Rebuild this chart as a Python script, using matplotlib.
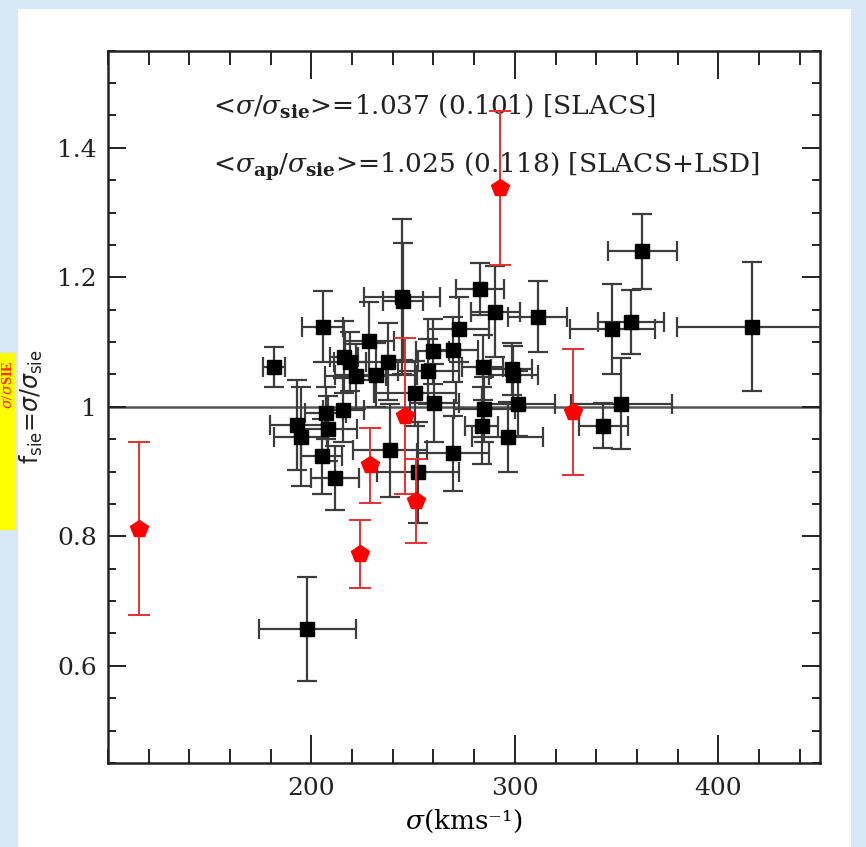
import matplotlib
matplotlib.use("Agg")
import matplotlib.pyplot as plt
from matplotlib.patches import Rectangle
from matplotlib.ticker import MultipleLocator, FuncFormatter

plt.rcParams['font.family'] = ['DejaVu Serif']
plt.rcParams['mathtext.fontset'] = 'dejavuserif'

# SLACS lenses (black squares)
slacs_sigma = [181.5, 205.6, 216.0, 219.0, 221.8, 228.4, 207.0, 215.7, 193.1, 194.7,
               208.2, 205.1, 211.6, 198.0, 238.6, 252.3, 269.5, 244.4, 245.0, 282.9,
               290.3, 311.3, 272.4, 259.6, 269.8, 237.5, 231.8, 257.5, 284.2, 298.5,
               299.3, 250.9, 260.3, 284.9, 301.7, 283.7, 296.5, 362.7, 347.9, 357.1,
               416.8, 352.4, 343.5]
slacs_f = [1.062, 1.124, 1.077, 1.070, 1.047, 1.102, 0.991, 0.995, 0.972, 0.954,
           0.966, 0.924, 0.890, 0.657, 0.933, 0.899, 0.928, 1.170, 1.163, 1.182,
           1.147, 1.139, 1.120, 1.086, 1.088, 1.070, 1.049, 1.055, 1.061, 1.058,
           1.049, 1.021, 1.006, 0.996, 1.005, 0.971, 0.953, 1.240, 1.120, 1.131,
           1.124, 1.005, 0.971]
slacs_sigma_err = [5.5, 10, 7, 8, 15, 12, 10, 10, 13.7, 13,
                   14, 10, 12, 24, 18, 20, 17.6, 18.7, 10, 12,
                   12, 14.5, 15, 8, 12, 15, 20, 15, 10, 10,
                   12, 20, 12, 15, 18, 8, 17.5, 17, 21, 16,
                   37, 25, 12]
slacs_f_err = [0.031, 0.055, 0.055, 0.045, 0.05, 0.06, 0.04, 0.05, 0.07, 0.076,
               0.05, 0.058, 0.05, 0.081, 0.072, 0.078, 0.058, 0.12, 0.09, 0.04,
               0.07, 0.055, 0.05, 0.05, 0.05, 0.06, 0.05, 0.05, 0.05, 0.04,
               0.045, 0.05, 0.06, 0.05, 0.05, 0.06, 0.054, 0.058, 0.07, 0.05,
               0.099, 0.07, 0.035]

# LSD lenses (red pentagons)
lsd_sigma = [115.2, 223.9, 228.8, 245.9, 251.3, 292.8, 328.4]
lsd_f = [0.812, 0.773, 0.910, 0.986, 0.854, 1.338, 0.992]
lsd_f_err = [0.133, 0.052, 0.058, 0.12, 0.065, 0.119, 0.097]

x_ticks = [200, 300, 400]
y_ticks = [0.6, 0.8, 1.0, 1.2, 1.4]

W, H = 866, 847
fig = plt.figure(figsize=(W / 100, H / 100), dpi=100)
fig.patch.set_facecolor('#d8e7f6')
fig.add_artist(Rectangle((18 / W, 0), (851 - 18) / W, 1 - 9 / H,
                         transform=fig.transFigure, facecolor='white',
                         edgecolor='none', zorder=0))
# yellow tag at left edge
fig.add_artist(Rectangle((0, 1 - 530 / H), 16 / W, (530 - 353) / H,
                         transform=fig.transFigure, facecolor='#ffff00',
                         edgecolor='none', zorder=1))
fig.text(8.5 / W, 1 - 360 / H, r"$\sigma$/$\sigma$SIE", rotation=90,
         color='#ff2a00', fontsize=10.5, fontweight='bold',
         family='Liberation Serif', ha='center', va='top', zorder=2)

ax = fig.add_axes([108 / W, 1 - 763 / H, (820 - 108) / W, (763 - 50.7) / H])
ax.set_zorder(3)
ax.patch.set_alpha(0)

ax.axhline(1.0, color='#555555', lw=1.8, zorder=1)

ax.errorbar(slacs_sigma, slacs_f, xerr=slacs_sigma_err, yerr=slacs_f_err,
            fmt='s', color='black', ms=10, ecolor='#3c3c3c', elinewidth=1.6,
            capsize=7, capthick=1.6, zorder=3)
ax.errorbar(lsd_sigma, lsd_f, yerr=lsd_f_err, fmt='p', color='#ff0000',
            ms=13, ecolor='#e63030', elinewidth=1.4, capsize=8, capthick=1.4,
            zorder=4)

ax.set_xlim(100, 450)
ax.set_ylim(0.45, 1.55)
ax.set_xticks(x_ticks)
ax.set_yticks(y_ticks)
ax.xaxis.set_minor_locator(MultipleLocator(20))
ax.yaxis.set_minor_locator(MultipleLocator(0.05))
ax.yaxis.set_major_formatter(FuncFormatter(lambda v, p: f"{v:g}"))
ax.tick_params(axis='both', which='both', direction='in', top=True, right=True,
               width=1.4, colors='#222222', labelsize=18)
ax.tick_params(axis='x', which='major', length=20, pad=10)
ax.tick_params(axis='x', which='minor', length=10)
ax.tick_params(axis='y', which='major', length=13, pad=8)
ax.tick_params(axis='y', which='minor', length=6)
for s in ax.spines.values():
    s.set_linewidth(1.8)
    s.set_color('#222222')

ax.set_xlabel(r"$\sigma$(kms⁻¹)", fontsize=19, labelpad=6)
ax.set_ylabel(r"$\mathrm{f_{sie}}$=$\sigma$/$\sigma_{\mathrm{sie}}$", fontsize=17,
              family='DejaVu Sans', math_fontfamily='dejavusans', labelpad=9,
              color='#222222')

ax.text(0.1475, 0.922, r"<$\sigma/\sigma_{\mathbf{sie}}$>=1.037 (0.101) [SLACS]",
        transform=ax.transAxes, fontsize=19, ha='left', va='center', color='#222222')
ax.text(0.1475, 0.837,
        r"<$\sigma_{\mathbf{ap}}/\sigma_{\mathbf{sie}}$>=1.025 (0.118) [SLACS+LSD]",
        transform=ax.transAxes, fontsize=19, ha='left', va='center', color='#222222')

fig.savefig("out.png", dpi=100, facecolor=fig.get_facecolor())
